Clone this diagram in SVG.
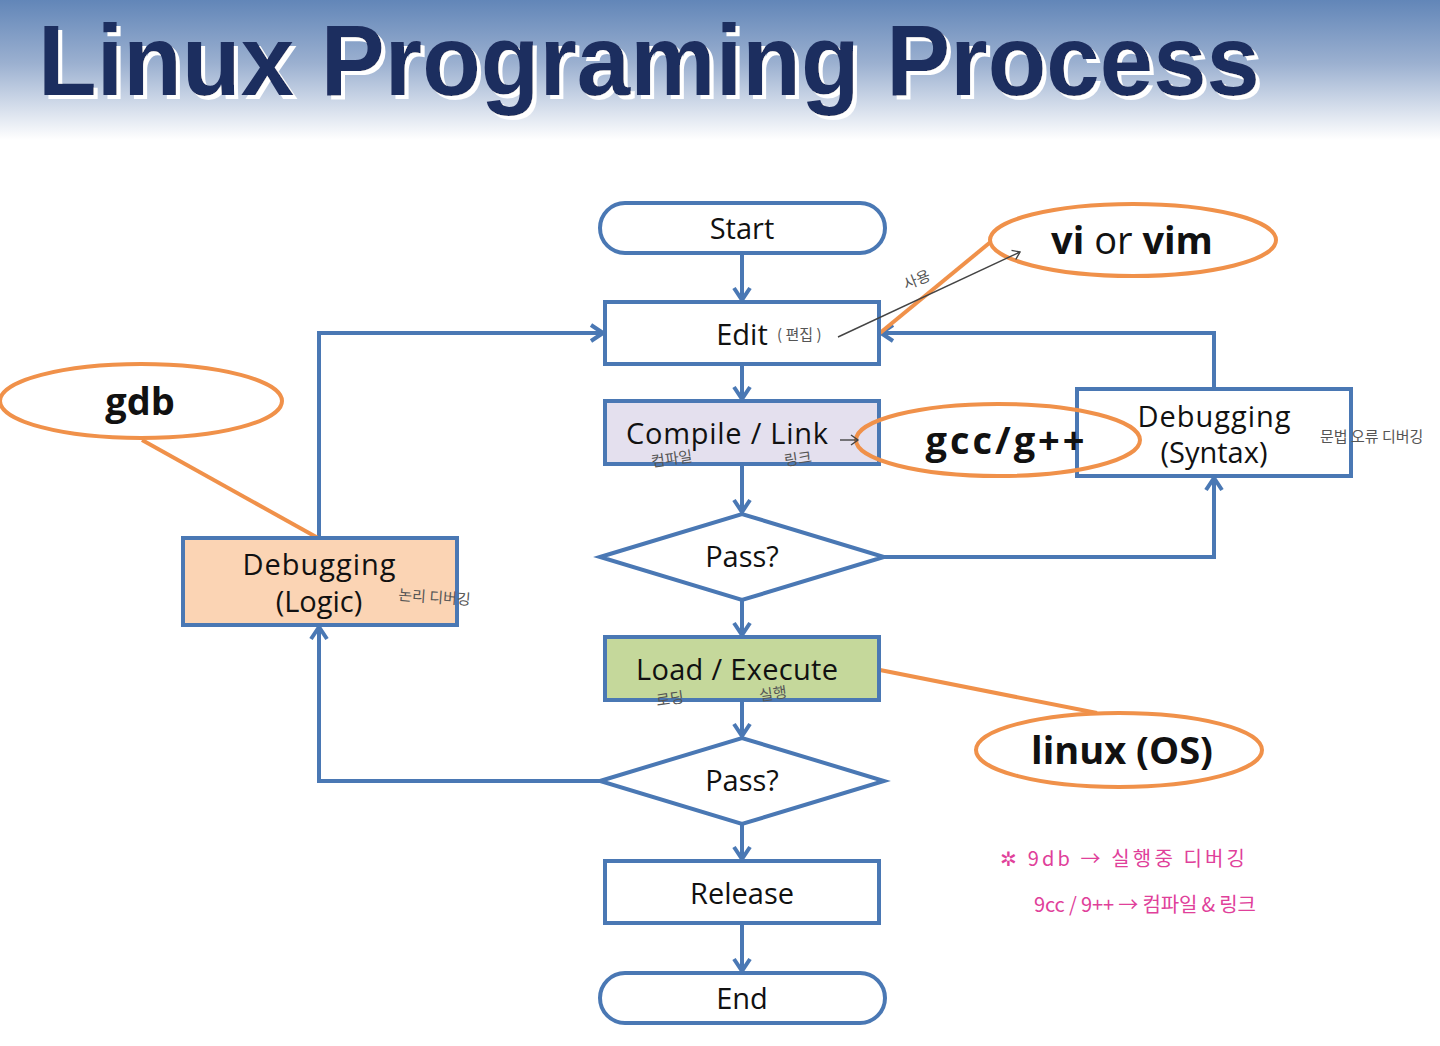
<svg xmlns="http://www.w3.org/2000/svg" width="1440" height="1046" viewBox="0 0 1440 1046">
<defs>
<linearGradient id="bg" x1="0" y1="0" x2="0" y2="1">
<stop offset="0" stop-color="#6286b8"/>
<stop offset="0.45" stop-color="#9bb0d0"/>
<stop offset="1" stop-color="#ffffff"/>
</linearGradient>
<filter id="tshadow" x="-5%" y="-20%" width="110%" height="140%">
<feOffset in="SourceAlpha" dx="4" dy="4" result="off"/>
<feFlood flood-color="#ffffff"/>
<feComposite in2="off" operator="in" result="sh"/>
<feMerge><feMergeNode in="sh"/><feMergeNode in="SourceGraphic"/></feMerge>
</filter>
<marker id="arr" viewBox="0 0 20 20" refX="17" refY="10" markerWidth="20" markerHeight="20" markerUnits="userSpaceOnUse" orient="auto">
<polyline points="5,2 17,10 5,18" fill="none" stroke="#4a78b4" stroke-width="4" stroke-linejoin="miter"/>
</marker>
<marker id="thin" viewBox="0 0 12 12" refX="10" refY="6" markerWidth="12" markerHeight="12" markerUnits="userSpaceOnUse" orient="auto">
<polyline points="3,1 10,6 3,11" fill="none" stroke="#444" stroke-width="1.4"/>
</marker>
<style>
.box{fill:#fff;stroke:#4a78b4;stroke-width:4}
.lbl{font-family:"Open Sans","Noto Sans",sans-serif;font-size:29px;fill:#111;text-anchor:middle}
.ell{fill:#fff;stroke:#f0914a;stroke-width:4}
.ol{stroke:#f0914a;stroke-width:4;fill:none}
.el{font-family:"Open Sans","Noto Sans",sans-serif;font-size:38px;font-weight:bold;fill:#111;text-anchor:middle}
.con{fill:none;stroke:#4a78b4;stroke-width:4;marker-end:url(#arr)}
.hw{font-family:"Noto Sans CJK KR",sans-serif;font-size:15px;fill:#555}
.pk{font-family:"Noto Sans CJK KR",sans-serif;font-size:20px;fill:#e0409a}
</style>
</defs>
<rect x="0" y="0" width="1440" height="140" fill="url(#bg)"/>
<g id="title">
<text x="38" y="95" fill="#1f2d5e" font-family="'Liberation Sans',Arial,sans-serif" font-weight="bold" font-size="100" textLength="1222" lengthAdjust="spacingAndGlyphs" filter="url(#tshadow)">Linux Programing Process</text>
</g>
<g id="connectors">
<line class="con" x1="742" y1="254" x2="742" y2="300"/>
<line class="con" x1="742" y1="365" x2="742" y2="399"/>
<line class="con" x1="742" y1="465" x2="742" y2="512"/>
<line class="con" x1="742" y1="601" x2="742" y2="635"/>
<line class="con" x1="742" y1="701" x2="742" y2="736"/>
<line class="con" x1="742" y1="825" x2="742" y2="859"/>
<line class="con" x1="742" y1="924" x2="742" y2="971"/>
<polyline class="con" points="884,557 1214,557 1214,478"/>
<polyline class="con" points="1214,389 1214,333 881,333"/>
<polyline class="con" points="600,781 319,781 319,627"/>
<polyline class="con" points="319,538 319,333 603,333"/>
<line class="ol" x1="993" y1="240" x2="880" y2="333"/>
<line class="ol" x1="142" y1="440" x2="318" y2="538"/>
<line class="ol" x1="1097" y1="713" x2="880" y2="670"/>
</g>
<g id="start"><rect class="box" x="600" y="203" width="285" height="50" rx="25" ry="25"/><text class="lbl" x="742" y="239">Start</text></g>
<g id="edit"><rect class="box" x="605" y="302" width="274" height="62"/><text class="lbl" x="742" y="345">Edit</text><text class="hw" x="777" y="340">( 편집 )</text></g>
<g id="compile"><rect class="box" x="605" y="401" width="274" height="63" style="fill:#e4e0ee"/><text class="lbl" x="727" y="444" textLength="202">Compile / Link</text><text class="hw" x="652" y="467" transform="rotate(-8 652 467)">컴파일</text><text class="hw" x="785" y="466" transform="rotate(-8 785 466)">링크</text></g>
<g id="pass1"><polygon class="box" points="600,557 742,514 884,557 742,600"/><text class="lbl" x="742" y="567">Pass?</text></g>
<g id="load"><rect class="box" x="605" y="637" width="274" height="63" style="fill:#c5d89b"/><text class="lbl" x="737" y="680" textLength="202">Load / Execute</text><text class="hw" x="657" y="706" transform="rotate(-8 657 706)">로딩</text><text class="hw" x="760" y="701" transform="rotate(-8 760 701)">실행</text></g>
<g id="pass2"><polygon class="box" points="600,781 742,738 884,781 742,824"/><text class="lbl" x="742" y="791">Pass?</text></g>
<g id="release"><rect class="box" x="605" y="861" width="274" height="62"/><text class="lbl" x="742" y="904">Release</text></g>
<g id="end"><rect class="box" x="600" y="973" width="285" height="50" rx="25" ry="25"/><text class="lbl" x="742" y="1009">End</text></g>
<g id="debug-syntax"><rect class="box" x="1077" y="389" width="274" height="87"/><text class="lbl" x="1214" y="427" textLength="153">Debugging</text><text class="lbl" x="1214" y="463">(Syntax)</text><text class="hw" x="1320" y="442">문법 오류 디버깅</text></g>
<g id="debug-logic"><rect class="box" x="183" y="538" width="274" height="87" style="fill:#fbd4b4"/><text class="lbl" x="319" y="575" textLength="153">Debugging</text><text class="lbl" x="319" y="612">(Logic)</text><text class="hw" x="398" y="600" transform="rotate(4 398 600)">논리 디버깅</text></g>
<g id="vi"><ellipse class="ell" cx="1133" cy="240" rx="143" ry="36"/><text class="el" x="1132" y="254">vi <tspan font-weight="normal">or</tspan> vim</text></g>
<g id="gcc"><ellipse class="ell" cx="998" cy="440" rx="142" ry="36" style="fill:none"/><text class="el" x="1005" y="454" textLength="159">gcc/g++</text></g>
<g id="gdb"><ellipse class="ell" cx="141" cy="401" rx="141" ry="37"/><text class="el" x="140" y="415">gdb</text></g>
<g id="linux"><ellipse class="ell" cx="1119" cy="750" rx="143" ry="37"/><text class="el" x="1122" y="764">linux (OS)</text></g>
<g id="notes">
<line x1="838" y1="337" x2="1020" y2="252" stroke="#444" stroke-width="1.4" marker-end="url(#thin)"/>
<text class="hw" x="906" y="290" transform="rotate(-22 906 290)">사용</text>
<line x1="840" y1="440" x2="858" y2="440" stroke="#444" stroke-width="1.4" marker-end="url(#thin)"/>
<text class="pk" x="1000" y="866" textLength="245">✲  9db  → 실행중  디버깅</text>
<text class="pk" x="1034" y="912" textLength="222">9cc / 9++  → 컴파일 &amp; 링크</text>
</g>
</svg>
